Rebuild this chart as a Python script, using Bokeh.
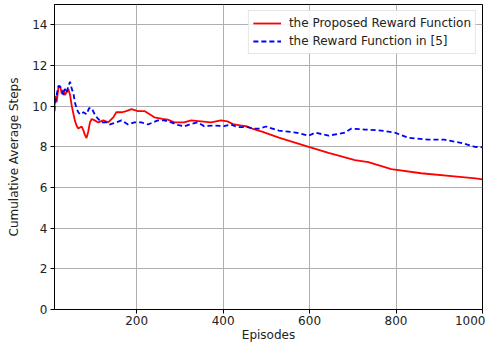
from bokeh.plotting import figure
from bokeh.models import Range1d, FixedTicker, Legend, LegendItem
from bokeh.embed import file_html
from bokeh.resources import INLINE

# ---- data ----
proposed_ep = [10, 12, 15, 19, 23, 27, 31, 34, 38, 42, 46, 50, 54, 57, 61, 65, 69, 73, 77, 80,
               84, 88, 92, 96, 103, 111, 123, 134, 146, 153, 165, 176, 188, 203, 218, 230, 241,
               260, 272, 287, 310, 326, 349, 372, 395, 410, 425, 440, 456, 467, 490, 529, 568,
               598, 644, 705, 736, 789, 858, 935, 984, 1000]
proposed_val = [10.0, 10.5, 10.2, 10.9, 11.0, 10.6, 10.8, 10.55, 10.7, 10.85, 10.55, 10.0, 9.6,
                9.3, 9.05, 8.9, 8.95, 9.0, 8.8, 8.6, 8.43, 8.74, 9.2, 9.37, 9.3, 9.2, 9.3, 9.2,
                9.45, 9.7, 9.7, 9.76, 9.85, 9.76, 9.76, 9.6, 9.45, 9.37, 9.34, 9.2, 9.2, 9.3,
                9.25, 9.2, 9.3, 9.25, 9.1, 9.05, 9.0, 8.9, 8.75, 8.45, 8.2, 8.0, 7.7, 7.35, 7.25,
                6.9, 6.7, 6.55, 6.45, 6.4]

ref5_ep = [10, 12, 15, 19, 23, 27, 31, 34, 38, 42, 46, 50, 54, 57, 61, 65, 69, 77, 84, 90, 96,
           103, 111, 119, 130, 138, 153, 165, 173, 180, 195, 211, 226, 249, 264, 280, 295, 310,
           326, 341, 356, 379, 402, 418, 433, 456, 471, 483, 499, 529, 568, 598, 613, 644, 682,
           697, 728, 766, 797, 828, 874, 912, 950, 982, 1000]
ref5_val = [9.75, 10.2, 10.55, 11.0, 10.95, 10.8, 10.55, 10.85, 10.65, 11.0, 11.2, 10.85, 10.6,
            10.2, 9.9, 9.7, 9.6, 9.7, 9.6, 9.9, 9.9, 9.6, 9.37, 9.2, 9.2, 9.1, 9.2, 9.3, 9.2,
            9.1, 9.2, 9.2, 9.1, 9.3, 9.3, 9.2, 9.08, 9.0, 9.13, 9.2, 9.02, 9.05, 9.02, 9.1,
            8.97, 8.97, 8.9, 8.9, 9.0, 8.8, 8.7, 8.55, 8.7, 8.55, 8.7, 8.9, 8.85, 8.8, 8.7,
            8.45, 8.35, 8.35, 8.2, 8.0, 7.98]

x_ticks = [200, 400, 600, 800, 1000]
y_ticks = [0, 2, 4, 6, 8, 10, 12, 14]
series_labels = ["the Proposed Reward Function", "the Reward Function in [5]"]

FONT = "DejaVu Sans"

p = figure(width=485, height=344, output_backend="svg", toolbar_location=None,
           x_range=Range1d(10, 1000), y_range=Range1d(0, 15),
           min_border_left=54, min_border_right=3, min_border_top=4, min_border_bottom=30)

p.outline_line_color = "black"
p.outline_line_width = 1
p.background_fill_color = "white"
p.border_fill_color = "white"

r1 = p.line(proposed_ep, proposed_val, line_color="#ff0000", line_width=1.8)
r2 = p.line(ref5_ep, ref5_val, line_color="#0000ff", line_width=1.8, line_dash="5 3")

for ax, ticks in ((p.xaxis, x_ticks), (p.yaxis, y_ticks)):
    ax.ticker = FixedTicker(ticks=ticks)
    ax.minor_tick_line_color = None
    ax.major_tick_in = 0
    ax.major_tick_out = 4
    ax.axis_line_color = "black"
    ax.major_tick_line_color = "black"
    ax.major_label_text_font = FONT
    ax.major_label_text_font_size = "12px"
    ax.major_label_text_color = "#222222"
    ax.axis_label_text_font = FONT
    ax.axis_label_text_font_size = "12px"
    ax.axis_label_text_font_style = "normal"
    ax.axis_label_text_color = "#222222"

p.xaxis.axis_label = "Episodes"
p.yaxis.axis_label = "Cumulative Average Steps"
p.xaxis.major_label_standoff = 2
p.xaxis.axis_label_standoff = 0
p.yaxis.major_label_standoff = 3
p.yaxis.axis_label_standoff = 8

p.xgrid.ticker = FixedTicker(ticks=x_ticks)
p.ygrid.ticker = FixedTicker(ticks=y_ticks)
for g in (p.xgrid, p.ygrid):
    g.grid_line_color = "#b0b0b0"
    g.grid_line_width = 1

legend = Legend(items=[LegendItem(label=series_labels[0], renderers=[r1]),
                       LegendItem(label=series_labels[1], renderers=[r2])],
                location="top_right")
legend.margin = 6
legend.padding = 4
legend.spacing = 2
legend.glyph_width = 28
legend.glyph_height = 16
legend.label_height = 16
legend.label_standoff = 8
legend.label_text_font = FONT
legend.label_text_font_size = "12px"
legend.label_text_color = "#222222"
legend.border_line_color = "#cccccc"
legend.border_line_width = 1
legend.background_fill_alpha = 0.85
p.add_layout(legend, "center")

open("out.html", "w").write(file_html(p, INLINE))
